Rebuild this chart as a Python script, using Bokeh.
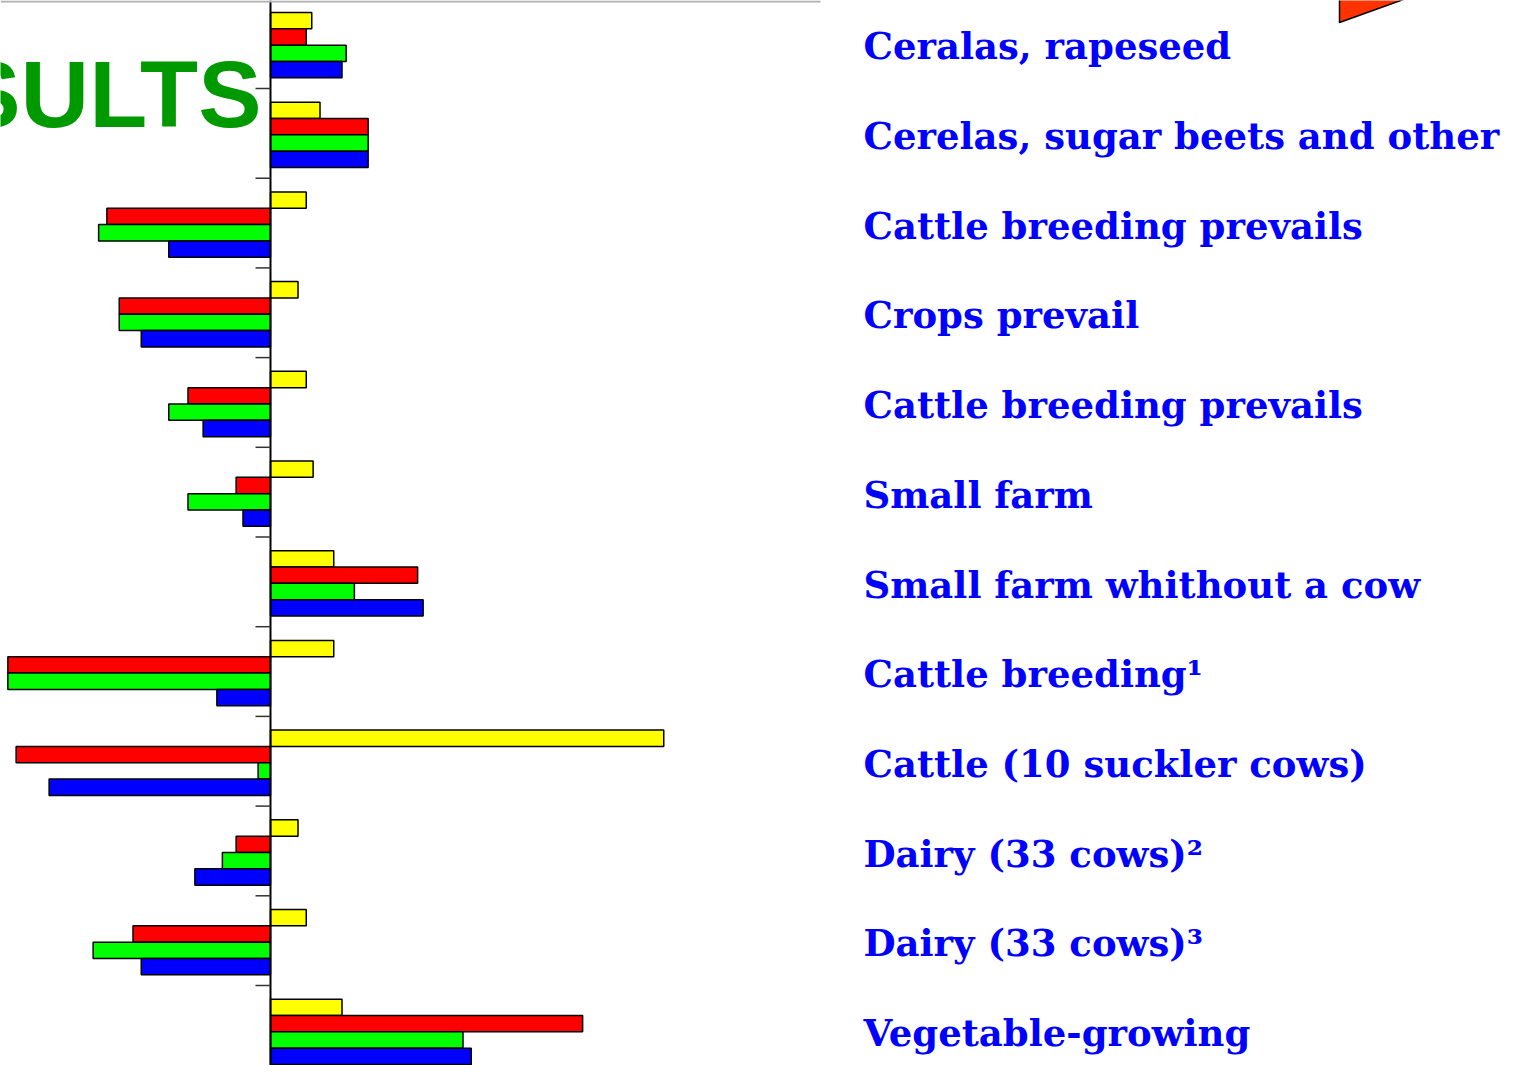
from bokeh.plotting import figure
from bokeh.models import Range1d, ColumnDataSource
from bokeh.core.properties import value
from bokeh.embed import file_html
from bokeh.resources import INLINE

# ---- data (one x unit = 1/10 of the grid step) ----
categories = [
    "Ceralas, rapeseed",
    "Cerelas, sugar beets and other",
    "Cattle breeding prevails",
    "Crops prevail",
    "Cattle breeding prevails",
    "Small farm",
    "Small farm whithout a cow",
    "Cattle breeding\u00b9",
    "Cattle (10 suckler cows)",
    "Dairy (33 cows)\u00b2",
    "Dairy (33 cows)\u00b3",
    "Vegetable-growing",
]
yellow = [3.0, 3.6, 2.6, 2.0, 2.6, 3.1, 4.6, 4.6, 28.6, 2.0, 2.6, 5.2]
red = [2.6, 7.1, -11.9, -11.0, -6.0, -2.5, 10.7, -19.1, -18.5, -2.5, -10.0, 22.7]
green = [5.5, 7.1, -12.5, -11.0, -7.4, -6.0, 6.1, -19.1, -0.9, -3.5, -12.9, 14.0]
blue = [5.2, 7.1, -7.4, -9.4, -4.9, -2.0, 11.1, -3.9, -16.1, -5.5, -9.4, 14.6]
series = [("yellow", yellow, "#ffff00"), ("red", red, "#ff0000"),
          ("green", green, "#00ff00"), ("blue", blue, "#0000ff")]
title_text = "RESULTS"

# ---- layout constants (pixels from the figure's top-left) ----
W, H = 1511, 1065
PX_PER_UNIT = 13.75          # horizontal scale
ZERO_PX = 270                # x of zero
BAND_PX = 89.7               # height of one category band
BAND_TOP0 = -1.7             # y of first band top


def sx(px):
    return (px - ZERO_PX) / PX_PER_UNIT


def sy(py):
    return (py - BAND_TOP0) / BAND_PX


p = figure(width=W, height=H,
           x_range=Range1d(sx(0), sx(W)),
           y_range=Range1d(sy(H), sy(0)),
           min_border=0, toolbar_location=None, output_backend="svg",
           outline_line_color=None, background_fill_color="white",
           border_fill_color="white")
p.axis.visible = False
p.grid.visible = False

n = len(categories)
bar_h = 0.182
offset = 0.153
for i, (name, vals, col) in enumerate(series):
    ys = [k + offset + bar_h * i + bar_h / 2 for k in range(n)]
    src = ColumnDataSource(dict(y=ys, right=vals, left=[0] * n))
    p.hbar(y="y", left="left", right="right", height=bar_h, source=src,
           fill_color=col, line_color="black", line_width=1.5)

# central axis and band ticks
p.segment(x0=[0], y0=[sy(0)], x1=[0], y1=[sy(1077)], line_color="black", line_width=2)
p.segment(x0=[sx(255)] * n, y0=list(range(1, n + 1)), x1=[0] * n,
          y1=list(range(1, n + 1)), line_color="#333333", line_width=1.5)

# top frame line
p.segment(x0=[sx(0)], y0=[sy(1)], x1=[sx(820)], y1=[sy(1)], line_color="#b0b0b0", line_width=2)

# category labels
p.text(x=[sx(863)] * n, y=[k + 0.53 for k in range(n)], text=categories,
       text_font=value("DejaVu Serif"), text_font_style="bold",
       text_font_size="37px", text_color="#0000ff",
       text_align="left", text_baseline="middle")

# big green title (cut off at left, as in the original slide)
p.text(x=[sx(261)], y=[sy(93)], text=[title_text],
       text_font=value("Liberation Sans"), text_font_style="bold",
       text_font_size="95px", text_color="#009900",
       text_align="right", text_baseline="middle")

# orange arrow tip at top right
p.patch(x=[sx(1339), sx(1339), sx(1428)], y=[sy(22), sy(-10), sy(-10)],
        fill_color="#ff3300", line_color="black", line_width=1.5)

open("out.html", "w").write(file_html(p, INLINE))
